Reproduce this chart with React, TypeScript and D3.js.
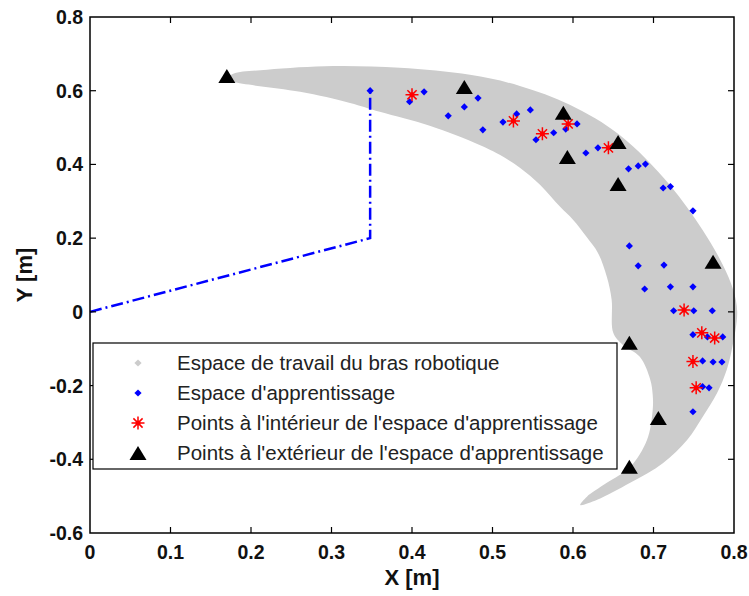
import React, { useEffect, useRef } from 'react';
import * as d3 from 'd3';

// Workspace outline (outer arc then inner arc)
const workspaceOuter: [number, number][] = [
  [0.170, 0.632], [0.178, 0.646], [0.220, 0.657], [0.302, 0.667], [0.385, 0.662],
  [0.472, 0.643], [0.534, 0.613], [0.596, 0.562], [0.658, 0.480], [0.720, 0.345],
  [0.761, 0.222], [0.786, 0.128], [0.799, 0.060], [0.804, 0.000], [0.798, -0.095],
  [0.791, -0.157], [0.779, -0.220], [0.761, -0.285], [0.742, -0.347], [0.712, -0.410],
  [0.671, -0.464], [0.630, -0.510], [0.609, -0.524],
];
const workspaceInner: [number, number][] = [
  [0.617, -0.502], [0.642, -0.464], [0.671, -0.421], [0.692, -0.347], [0.699, -0.266],
  [0.699, -0.225], [0.696, -0.184], [0.683, -0.122], [0.662, -0.090], [0.650, -0.057],
  [0.648, 0.033], [0.642, 0.095], [0.631, 0.160], [0.617, 0.203], [0.600, 0.250],
  [0.584, 0.285], [0.559, 0.345], [0.534, 0.391], [0.509, 0.426], [0.484, 0.453],
  [0.422, 0.505], [0.360, 0.543], [0.323, 0.567], [0.261, 0.597], [0.178, 0.624],
];

// Robot arm
const armX = [0, 0.348, 0.348];
const armY = [0, 0.2, 0.6];

// Learning space samples
const learnX = [
  0.348, 0.415, 0.397, 0.482, 0.465, 0.445, 0.488, 0.513, 0.530, 0.547,
  0.576, 0.554, 0.591, 0.605, 0.616, 0.631, 0.669, 0.681, 0.690, 0.712,
  0.721, 0.749, 0.670, 0.681, 0.713, 0.689, 0.721, 0.749, 0.725, 0.750,
  0.773, 0.749, 0.767, 0.786, 0.761, 0.774, 0.785, 0.761, 0.769, 0.749,
];
const learnY = [
  0.600, 0.597, 0.570, 0.580, 0.556, 0.532, 0.494, 0.515, 0.537, 0.548,
  0.486, 0.467, 0.496, 0.510, 0.431, 0.445, 0.388, 0.396, 0.401, 0.336,
  0.340, 0.274, 0.179, 0.125, 0.127, 0.062, 0.068, 0.068, 0.003, 0.003,
  0.003, -0.062, -0.068, -0.068, -0.133, -0.136, -0.136, -0.203, -0.206, -0.271,
];

// Test points inside the learning space
const insideX = [0.400, 0.526, 0.562, 0.594, 0.644, 0.738, 0.760, 0.776, 0.749, 0.753];
const insideY = [0.589, 0.518, 0.483, 0.510, 0.445, 0.005, -0.057, -0.071, -0.135, -0.206];

// Test points outside the learning space
const outsideX = [0.170, 0.465, 0.588, 0.593, 0.656, 0.656, 0.774, 0.670, 0.706, 0.670];
const outsideY = [0.640, 0.610, 0.540, 0.420, 0.461, 0.347, 0.136, -0.084, -0.288, -0.420];

const xTicks = [0, 0.1, 0.2, 0.3, 0.4, 0.5, 0.6, 0.7, 0.8];
const yTicks = [-0.6, -0.4, -0.2, 0, 0.2, 0.4, 0.6, 0.8];

const legendLabels = [
  'Espace de travail du bras robotique',
  "Espace d'apprentissage",
  "Points à l'intérieur de l'espace d'apprentissage",
  "Points à l'extérieur de l'espace d'apprentissage",
];

const diamond = (r: number) => `M0,${-r}L${r},0L0,${r}L${-r},0Z`;
const triangle = 'M0,-7L8.5,7L-8.5,7Z';
const star = 'M-6.5,0H6.5M0,-6.5V6.5M-4.6,-4.6L4.6,4.6M-4.6,4.6L4.6,-4.6';

const App: React.FC = () => {
  const svgRef = useRef<SVGSVGElement>(null);
  const width = 749;
  const height = 596;

  useEffect(() => {
    const svg = d3.select(svgRef.current);
    svg.selectAll('*').remove();

    const left = 90, right = 734, top = 17, bottom = 533;
    const x = d3.scaleLinear().domain([0, 0.8]).range([left, right]);
    const y = d3.scaleLinear().domain([-0.6, 0.8]).range([bottom, top]);

    // Workspace region
    const outline = [...workspaceOuter, ...workspaceInner];
    svg.append('path')
      .attr('d', d3.line<[number, number]>().x(d => x(d[0])).y(d => y(d[1])).curve(d3.curveCatmullRomClosed)(outline))
      .attr('fill', '#cccccc');

    // Arm
    svg.append('path')
      .attr('d', d3.line<number>().x((_, i) => x(armX[i])).y((_, i) => y(armY[i]))(armX))
      .attr('fill', 'none')
      .attr('stroke', '#0000ff')
      .attr('stroke-width', 2.5)
      .attr('stroke-dasharray', '12,4,2,4');

    // Learning space
    svg.append('g').selectAll('path')
      .data(learnX)
      .enter()
      .append('path')
      .attr('d', diamond(3.6))
      .attr('transform', (d, i) => `translate(${x(d)},${y(learnY[i])})`)
      .attr('fill', '#0000ff');

    // Inside points
    svg.append('g').selectAll('path')
      .data(insideX)
      .enter()
      .append('path')
      .attr('d', star)
      .attr('transform', (d, i) => `translate(${x(d)},${y(insideY[i])})`)
      .attr('fill', 'none')
      .attr('stroke', '#ff0000')
      .attr('stroke-width', 1.5);
    svg.append('g').selectAll('circle')
      .data(insideX)
      .enter()
      .append('circle')
      .attr('cx', d => x(d))
      .attr('cy', (_, i) => y(insideY[i]))
      .attr('r', 2.5)
      .attr('fill', '#ff0000');

    // Outside points
    svg.append('g').selectAll('path')
      .data(outsideX)
      .enter()
      .append('path')
      .attr('d', triangle)
      .attr('transform', (d, i) => `translate(${x(d)},${y(outsideY[i])})`)
      .attr('fill', '#000000');

    // Axes box
    svg.append('rect')
      .attr('x', left)
      .attr('y', top)
      .attr('width', right - left)
      .attr('height', bottom - top)
      .attr('fill', 'none')
      .attr('stroke', '#000')
      .attr('stroke-width', 1.5);

    const tickLen = 6;
    const ticks = svg.append('g').attr('stroke', '#000').attr('stroke-width', 1.2);
    xTicks.slice(1, -1).forEach(t => {
      ticks.append('line').attr('x1', x(t)).attr('x2', x(t)).attr('y1', bottom).attr('y2', bottom - tickLen);
      ticks.append('line').attr('x1', x(t)).attr('x2', x(t)).attr('y1', top).attr('y2', top + tickLen);
    });
    yTicks.slice(1, -1).forEach(t => {
      ticks.append('line').attr('y1', y(t)).attr('y2', y(t)).attr('x1', left).attr('x2', left + tickLen);
      ticks.append('line').attr('y1', y(t)).attr('y2', y(t)).attr('x1', right).attr('x2', right - tickLen);
    });

    const fmt = (v: number) => String(+v.toFixed(1));
    const tickFont = '"Liberation Sans Narrow", "Liberation Sans", Arial, sans-serif';

    svg.append('g').selectAll('text')
      .data(xTicks)
      .enter()
      .append('text')
      .attr('x', d => x(d))
      .attr('y', 559)
      .attr('text-anchor', 'middle')
      .attr('font-family', tickFont)
      .attr('font-weight', 'bold')
      .attr('font-size', '19.5px')
      .attr('fill', '#111')
      .text(fmt);

    svg.append('g').selectAll('text')
      .data(yTicks)
      .enter()
      .append('text')
      .attr('x', 83)
      .attr('y', d => y(d) + 7)
      .attr('text-anchor', 'end')
      .attr('font-family', tickFont)
      .attr('font-weight', 'bold')
      .attr('font-size', '19.5px')
      .attr('fill', '#111')
      .text(fmt);

    // Axis labels
    svg.append('text')
      .attr('x', (left + right) / 2)
      .attr('y', 585)
      .attr('text-anchor', 'middle')
      .attr('font-family', '"Liberation Sans", Arial, sans-serif')
      .attr('font-weight', 'bold')
      .attr('font-size', '22px')
      .attr('fill', '#111')
      .text('X [m]');

    svg.append('text')
      .attr('transform', `translate(32,${(top + bottom) / 2}) rotate(-90)`)
      .attr('text-anchor', 'middle')
      .attr('font-family', '"Liberation Sans", Arial, sans-serif')
      .attr('font-weight', 'bold')
      .attr('font-size', '22px')
      .attr('fill', '#111')
      .text('Y [m]');

    // Legend
    const lg = svg.append('g').attr('transform', 'translate(93,343)');
    lg.append('rect')
      .attr('width', 524)
      .attr('height', 126)
      .attr('fill', '#fff')
      .attr('stroke', '#000')
      .attr('stroke-width', 1.2);

    const rowY = (i: number) => 20 + i * 30;
    lg.append('path').attr('d', diamond(3.6)).attr('transform', `translate(45,${rowY(0)})`).attr('fill', '#cccccc');
    lg.append('path').attr('d', diamond(3.6)).attr('transform', `translate(45,${rowY(1)})`).attr('fill', '#0000ff');
    lg.append('path').attr('d', star).attr('transform', `translate(45,${rowY(2)})`)
      .attr('fill', 'none').attr('stroke', '#ff0000').attr('stroke-width', 1.5);
    lg.append('circle').attr('cx', 45).attr('cy', rowY(2)).attr('r', 2.5).attr('fill', '#ff0000');
    lg.append('path').attr('d', triangle).attr('transform', `translate(45,${rowY(3)})`).attr('fill', '#000');

    lg.selectAll('text.leg')
      .data(legendLabels)
      .enter()
      .append('text')
      .attr('class', 'leg')
      .attr('x', 84)
      .attr('y', (_, i) => rowY(i) + 7)
      .attr('font-family', '"Liberation Sans", Arial, sans-serif')
      .attr('font-size', '20.5px')
      .attr('fill', '#222')
      .text(d => d);
  }, []);

  return (
    <div style={{ position: 'absolute', left: 0, top: 0 }}>
      <svg ref={svgRef} width={width} height={height}></svg>
    </div>
  );
};

export default App;
